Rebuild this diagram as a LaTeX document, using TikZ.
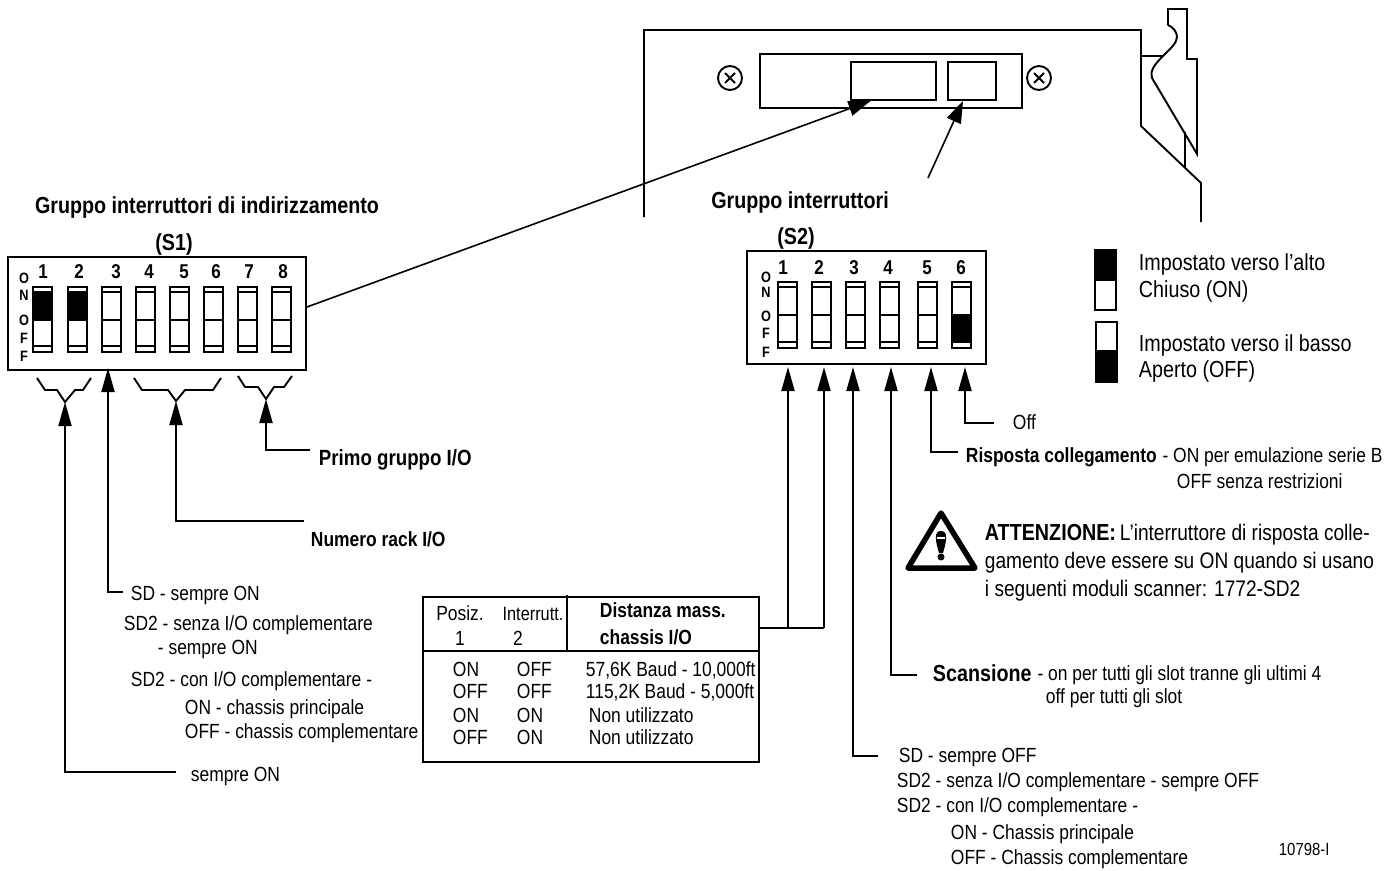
\documentclass[tikz,border=0pt]{standalone}
\usepackage{fontspec}
\setmainfont[FakeStretch=0.85]{Liberation Sans}
\usetikzlibrary{arrows.meta}

\begin{document}
\begin{tikzpicture}[x=1pt,y=-1pt,line width=1.9pt,
  wire/.style={line join=miter},
  arrowline/.style={-{Triangle[length=24pt,width=13pt]}},
  thinarrow/.style={line width=1.6pt,-{Triangle[length=22pt,width=15pt]}},
  txt/.style={anchor=west,inner sep=0pt,text height=15pt,text depth=0pt,font=\fontsize{20.5}{24}\selectfont},
  big/.style={txt,text height=17pt,font=\fontsize{23.2}{28}\selectfont},
  warning/.style={big,font=\fontsize{22.5}{27}\selectfont},
  bold/.style={txt,font=\fontsize{20.5}{24}\selectfont\bfseries},
  bigbold/.style={big,font=\fontsize{23.2}{28}\selectfont\bfseries},
  title/.style={bigbold,anchor=center},
  digit/.style={inner sep=0pt,font=\fontsize{20}{22}\selectfont\bfseries},
  onoff/.style={inner sep=0pt,font=\fontsize{15}{17}\selectfont\bfseries},
  ctr/.style={txt,anchor=center},
  box/.style={draw,inner sep=0pt},
  toggle/.style={line width=1.5pt},
]
\useasboundingbox (0,0) rectangle (1397,870);

\draw[wire] (644,217) -- (644,30) -- (1141,30) -- (1141,126) -- (1201,183) -- (1201,222);
\draw[wire] (1141,56) -- (1162,56);
\draw[wire] (1185,132) -- (1185,167);
\draw[wire] (1168,25) -- (1168,9) -- (1187,9) -- (1187,59) -- (1197,59) -- (1197,154) -- (1152,78)
  .. controls (1150,72) and (1153,66) .. (1162,57) .. controls (1170,49) and (1177,43) .. (1177,37)
  .. controls (1177,32) and (1173,27) .. (1168,25);
\node[box,minimum width=262pt,minimum height=54pt] (holder) at (891,81) {};
\node[box,minimum width=85pt,minimum height=38pt] (slotA) at (893.5,81) {};
\node[box,minimum width=48pt,minimum height=38pt] (slotB) at (972,81) {};
\node[box,circle,minimum size=24pt] (screwA) at (730,78) {};
\node[box,circle,minimum size=24pt] (screwB) at (1039,78) {};
\foreach \s in {screwA,screwB} {
  \draw ([shift={(-5pt,-5pt)}]\s.center) -- ([shift={(5pt,5pt)}]\s.center);
  \draw ([shift={(-5pt,5pt)}]\s.center) -- ([shift={(5pt,-5pt)}]\s.center);
}

\node[title] (titleA) at (207,205) {Gruppo interruttori di indirizzamento};
\node[title] (titleAb) at (174,242) {(S1)};
\node[box,minimum width=298pt,minimum height=113pt] (swA) at (157,313.5) {};
\foreach \x/\n in {43/1,79/2,116/3,149/4,184/5,216/6,249/7,283/8}
  \node[digit] (dA\n) at (\x,272) {\n};
\foreach \y/\c [count=\i] in {278/O,295/N,320/O,338/F,356/F}
  \node[onoff] (lA\i) at (24,\y) {\c};
\fill (33,292) rectangle (52,320);
\fill (68,292) rectangle (86,320);
\foreach \x in {33,68,102,136,170,204,238,272} {
  \draw[toggle] (\x,287) rectangle ++(19,65);
  \draw[toggle] (\x,292) -- ++(19,0) (\x,320) -- ++(19,0) (\x,346) -- ++(19,0);
}

\coordinate (tipA) at (65,402);
\coordinate (tipB) at (108,368);
\coordinate (tipC) at (176,401);
\coordinate (tipD) at (266,399);
\draw[wire] (37,378) -- (45,390) -- (57,390) -- (tipA) -- (75,390) -- (83,390) -- (91,378);
\draw[wire] (134,378) -- (142,390) -- (168,390) -- (tipC) -- (185,390) -- (213,390) -- (221,378);
\draw[wire] (238,376) -- (245,387) -- (258,387) -- (tipD) -- (274,387) -- (284,387) -- (292,376);

\node[txt] (always) at (190,774) {sempre ON};
\node[txt] (sdA) at (130,593) {SD - sempre ON};
\node[txt] (sdB) at (123,623) {SD2 - senza I/O complementare};
\node[txt] (sdC) at (157,647) {- sempre ON};
\node[txt] (sdD) at (130,679) {SD2 - con I/O complementare -};
\node[txt] (sdE) at (184,707) {ON - chassis principale};
\node[txt] (sdF) at (184,731) {OFF - chassis complementare};
\node[bold] (rack) at (310,539) {Numero rack I/O};
\node[bold,font=\fontsize{22}{24}\selectfont\bfseries] (first) at (318,458) {Primo gruppo I/O};
\coordinate (endA) at (176,772);
\coordinate (endB) at (123,592);
\coordinate (endC) at (304,521);
\coordinate (endD) at (310,450);
\draw[arrowline] (endA) -| (tipA);
\draw[arrowline] (endB) -| (tipB);
\draw[arrowline] (endC) -| (tipC);
\draw[arrowline] (endD) -| (tipD);

\draw[thinarrow] ([yshift=6.5pt]swA.east) -- ([xshift=-23pt]slotA.south);
\coordinate (fromS) at (928,178);
\draw[thinarrow] (fromS) -- ([xshift=-9pt]slotB.south);

\node[title] (titleB) at (800,200) {Gruppo interruttori};
\node[title] (titleBb) at (796,236) {(S2)};
\node[box,minimum width=239pt,minimum height=113pt] (swB) at (866.5,307.5) {};
\foreach \x/\n in {783/1,819/2,854/3,888/4,927/5,961/6}
  \node[digit] (dB\n) at (\x,268) {\n};
\foreach \y/\c [count=\i] in {277/O,292/N,316/O,333/F,352/F}
  \node[onoff] (lB\i) at (766,\y) {\c};
\fill (952,315) rectangle (971,342);
\foreach \x in {778,812,846,880,918,952} {
  \draw[toggle] (\x,282) rectangle ++(19,66);
  \draw[toggle] (\x,287) -- ++(19,0) (\x,315) -- ++(19,0) (\x,342) -- ++(19,0);
}

\node[box,minimum width=336pt,minimum height=165pt] (tab) at (591,679.5) {};
\draw[wire] (423,651) -- (759,651);
\draw[wire] (567,595) -- (567,651);
\node[ctr] (posA) at (460,613) {Posiz.};
\node[ctr] (posB) at (460,638) {1};
\node[ctr,font=\fontsize{19.2}{24}\selectfont] (intA) at (533,613) {Interrutt.};
\node[ctr] (intB) at (518,638) {2};
\node[bold] (distA) at (599,610) {Distanza mass.};
\node[bold] (distB) at (599,637) {chassis I/O};
\foreach \y/\a/\b/\c/\d [count=\i] in {
  669/ON/OFF/585/{57,6K Baud - 10,000ft},
  691/OFF/OFF/585/{115,2K Baud - 5,000ft},
  715/ON/ON/588/Non utilizzato,
  737/OFF/ON/588/Non utilizzato} {
  \node[txt] (rowA\i) at (452,\y) {\a};
  \node[txt] (rowB\i) at (516,\y) {\b};
  \node[txt] (rowC\i) at (\c,\y) {\d};
}

\coordinate (tipE) at (788,367);
\coordinate (tipF) at (824,367);
\coordinate (tipG) at (853,367);
\coordinate (tipH) at (891,367);
\coordinate (tipI) at (931,367);
\coordinate (tipJ) at (965,367);
\coordinate (joinA) at (788,628);
\coordinate (joinB) at (824,628);
\coordinate (endG) at (878,756);
\coordinate (endH) at (917,675);
\coordinate (endI) at (958,452);
\coordinate (endJ) at (994,423);
\draw[wire] (tab.east |- joinB) -- (joinB);
\draw[arrowline] (joinA) -- (tipE);
\draw[arrowline] (joinB) -- (tipF);
\draw[arrowline] (endG) -| (tipG);
\draw[arrowline] (endH) -| (tipH);
\draw[arrowline] (endI) -| (tipI);
\draw[arrowline] (endJ) -| (tipJ);

\node[txt] (off) at (1012,422) {Off};
\node[bold] (resp) at (965,455) {Risposta collegamento};
\node[txt,xshift=4pt] (respB) at (resp.east) {- ON per emulazione serie B};
\node[txt] (respC) at (1176,481) {OFF senza restrizioni};

\fill[line width=5.5pt,draw,line join=round,fill=white] (941,513) -- (975,568) -- (908,568) -- cycle;
\fill (941,531) .. controls (934,531) and (935,540) .. (939,553) -- (943,553) .. controls (947,540) and (948,531) .. (941,531);
\fill (941,557) circle (3.5);
\draw[white,line width=1.2pt] (937,538) -- (945,538);
\node[bigbold] (warn) at (984,532) {ATTENZIONE:};
\node[warning,xshift=2pt] (warnB) at (warn.east) {L'interruttore di risposta colle-};
\node[warning] (warnC) at (984,560) {gamento deve essere su ON quando si usano};
\node[warning] (warnD) at (984,588) {i seguenti moduli scanner: 1772-SD2};

\node[bigbold] (scan) at (932,673) {Scansione};
\node[txt,xshift=4pt] (scanB) at (scan.east) {- on per tutti gli slot tranne gli ultimi 4};
\node[txt] (scanC) at (1045,696) {off per tutti gli slot};
\node[txt] (offA) at (898,755) {SD - sempre OFF};
\node[txt] (offB) at (896,780) {SD2 - senza I/O complementare - sempre OFF};
\node[txt] (offC) at (896,805) {SD2 - con I/O complementare -};
\node[txt] (offD) at (950,832) {ON - Chassis principale};
\node[txt] (offE) at (950,857) {OFF - Chassis complementare};
\node[txt,font=\fontsize{17.5}{20}\selectfont] (code) at (1278,848) {10798-I};

\draw (1095,250) rectangle (1116,310);
\fill (1095,250) rectangle (1116,281);
\draw (1096,322) rectangle (1117,382);
\fill (1096,350) rectangle (1117,382);
\node[big] (legA) at (1138,262) {Impostato verso l'alto};
\node[big] (legB) at (1138,289) {Chiuso (ON)};
\node[big] (legC) at (1138,343) {Impostato verso il basso};
\node[big] (legD) at (1138,369) {Aperto (OFF)};
\end{tikzpicture}
\end{document}
